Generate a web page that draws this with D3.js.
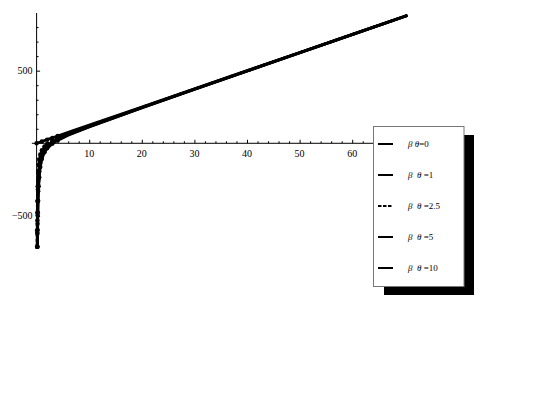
<!DOCTYPE html>
<html>
<head>
<meta charset="utf-8">
<script src="https://cdn.jsdelivr.net/npm/d3@7"></script>
<style>
  body { margin: 0; background: #fff; }
  text { font-family: "Liberation Serif", "DejaVu Serif", serif; }
</style>
</head>
<body>
<div id="chart"></div>
<script>

// values
var legendLabels = ["0", "1", "2.5", "5", "10"];
var legendGaps = ["", " ", " ", " ", " "];

var x0 = [0, 1, 2, 3, 4, 6, 10, 20, 30, 40, 50, 60, 70.5];
var y0 = [0, 12.5, 25, 37.5, 50, 75, 125, 250, 375, 500, 625, 750, 881.3];

var x1 = [0.14, 0.16, 0.18, 0.2, 0.25, 0.3, 0.4, 0.5, 0.7, 1, 1.5, 2, 3, 4, 6, 10, 20, 30, 40, 50, 60, 70.5];
var y1 = [-712.5, -623, -553.3, -497.5, -396.9, -329.6, -245, -193.8, -134.1, -87.5, -47.9, -25, 4.2, 25, 58.3, 115, 245, 371.7, 497.5, 623, 748.3, 879.8];

var x25 = [0.084, 0.1, 0.125, 0.15, 0.2, 0.3, 0.4, 0.5, 0.7, 1, 1.5, 2, 3, 4, 6, 10, 20, 30, 40, 50, 60, 70.5];
var y25 = [-713.2, -598.8, -478.4, -398.1, -297.5, -196.3, -145, -113.8, -77, -47.5, -21.3, -5, 17.5, 35, 65, 119, 247, 373, 498.5, 623.8, 749, 880.4];

var x5 = [0.168, 0.2, 0.25, 0.3, 0.4, 0.5, 0.7, 1, 1.5, 2, 3, 4, 6, 10, 20, 30, 40, 50, 60, 70.5];
var y5 = [-712.2, -597.5, -476.9, -396.3, -295, -233.8, -162.7, -107.5, -61.3, -35, -2.5, 20, 55, 113, 244, 371, 497, 622.6, 748, 879.6];

var x10 = [0.112, 0.13, 0.15, 0.2, 0.25, 0.3, 0.4, 0.5, 0.7, 1, 1.5, 2, 3, 4, 6, 10, 20, 30, 40, 50, 60, 70.5];
var y10 = [-712.9, -613.8, -531.4, -397.5, -316.9, -262.9, -195, -153.8, -105.5, -67.5, -34.6, -15, 10.8, 30, 61.7, 117, 246, 372.3, 498, 623.4, 748.7, 880.1];

var xTicks = [10, 20, 30, 40, 50, 60];
var yTicks = [-500, 500];

var seriesX = [x0, x1, x25, x5, x10];
var seriesY = [y0, y1, y25, y5, y10];

var width = 545, height = 409;

var svg = d3.select("#chart").append("svg")
    .attr("width", width)
    .attr("height", height);

var x = d3.scaleLinear().domain([0, 70]).range([36.6, 404.8]);
var y = d3.scaleLinear().domain([-712, 897]).range([246.7, 13]);

// x axis (Mathematica style: ticks inside, labels below)
var xAxis = d3.axisBottom(x)
    .tickValues(d3.range(2, 70, 2))
    .tickSizeInner(-2)
    .tickSizeOuter(0)
    .tickFormat("");

var gx = svg.append("g")
    .attr("transform", "translate(0," + y(0) + ")")
    .call(xAxis);
gx.select(".domain").remove();
gx.selectAll(".tick line").attr("stroke", "#000").attr("y2", function(d) { return d % 10 == 0 ? -3.5 : -2; });

svg.append("line")
    .attr("x1", x(-0.9)).attr("x2", x(70.5))
    .attr("y1", y(0)).attr("y2", y(0))
    .attr("stroke", "#000").attr("stroke-width", 1);

svg.selectAll(".xlab")
    .data(xTicks).enter()
    .append("text")
    .attr("class", "xlab")
    .attr("x", function(d) { return x(d); })
    .attr("y", y(0) + 14)
    .attr("text-anchor", "middle")
    .style("font-size", "10px")
    .text(function(d) { return d; });

// y axis
var minorY = d3.range(-700, 900, 100).filter(function(d) { return d != 0; });
var yAxis = d3.axisLeft(y)
    .tickValues(minorY)
    .tickSizeInner(-2)
    .tickSizeOuter(0)
    .tickFormat("");

var gy = svg.append("g")
    .attr("transform", "translate(" + x(0) + ",0)")
    .call(yAxis);
gy.select(".domain").remove();
gy.selectAll(".tick line").attr("stroke", "#000").attr("x2", function(d) { return d % 500 == 0 ? 3.5 : 2; });

svg.append("line")
    .attr("x1", x(0)).attr("x2", x(0))
    .attr("y1", y(897)).attr("y2", y(-712))
    .attr("stroke", "#000").attr("stroke-width", 1);

svg.selectAll(".ylab")
    .data(yTicks).enter()
    .append("text")
    .attr("class", "ylab")
    .attr("x", x(0) - 4)
    .attr("y", function(d) { return y(d) + 3.5; })
    .attr("text-anchor", "end")
    .style("font-size", "10px")
    .text(function(d) { return d < 0 ? "\u2212" + Math.abs(d) : d; });

// curves
var line = d3.line()
    .x(function(d) { return x(d[0]); })
    .y(function(d) { return y(d[1]); });

for (var i = 0; i < seriesX.length; i++) {
  var pts = seriesX[i].map(function(v, j) { return [v, seriesY[i][j]]; });
  svg.append("path")
      .datum(pts)
      .attr("d", line)
      .attr("fill", "none")
      .attr("stroke", "#000")
      .attr("stroke-width", 2.8)
      .attr("stroke-dasharray", i == 2 ? "3,2" : null);
  svg.selectAll(".pt" + i)
      .data(pts.filter(function(d) { return d[0] < 6; })).enter()
      .append("circle")
      .attr("cx", function(d) { return x(d[0]); })
      .attr("cy", function(d) { return y(d[1]); })
      .attr("r", 2.2)
      .attr("fill", "#000");
}

// legend with drop shadow
var lg = svg.append("g");
lg.append("rect")
    .attr("x", 384).attr("y", 135)
    .attr("width", 90).attr("height", 160)
    .attr("fill", "#000");
lg.append("rect")
    .attr("x", 373.5).attr("y", 126.5)
    .attr("width", 90.5).attr("height", 160)
    .attr("fill", "#fff")
    .attr("stroke", "#777")
    .attr("stroke-width", 1);

var items = lg.selectAll(".item")
    .data(legendLabels).enter()
    .append("g")
    .attr("transform", function(d, i) { return "translate(0," + (144 + i * 31) + ")"; });

items.append("line")
    .attr("x1", 378).attr("x2", 393)
    .attr("y1", 0).attr("y2", 0)
    .attr("stroke", "#000")
    .attr("stroke-width", 2)
    .attr("stroke-dasharray", function(d, i) { return i == 2 ? "3.5,1.5" : null; });

var lt = items.append("text")
    .attr("x", 408)
    .attr("y", 3)
    .style("font-size", "9px")
    .style("white-space", "pre");
lt.append("tspan").style("font-style", "italic").text(function(d, i) { return "\u03b2 " + legendGaps[i]; });
lt.append("tspan").style("font-style", "italic").text("\u03b8");
lt.append("tspan").text(function(d, i) { return (i == 0 ? "" : " ") + "=" + d; });

</script>
</body>
</html>
